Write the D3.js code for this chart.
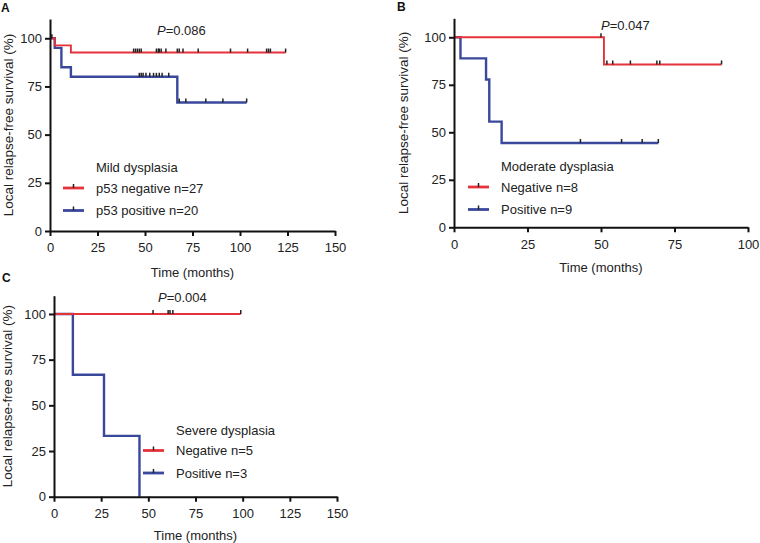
<!DOCTYPE html>
<html>
<head>
<meta charset="utf-8">
<script src="https://cdn.jsdelivr.net/npm/d3@7"></script>
<style>
  body { margin: 0; background: #fff; }
  svg { display: block; font-family: Arial, "Liberation Sans", sans-serif; }
  .axis path, .axis line { stroke: #111; stroke-width: 2; }
  .axis text { font-size: 13px; fill: #222; }
</style>
</head>
<body>
<svg id="chart" width="760" height="543"></svg>
<script>
// shared ticks
const survTicks = [0, 25, 50, 75, 100];
const time150Ticks = [0, 25, 50, 75, 100, 125, 150];
const time100Ticks = [0, 25, 50, 75, 100];

// A: mild dysplasia  (steps are [time, survival %])
const aNegSteps = [[0, 100], [2.5, 96.3], [11, 92.6]];
const aNegEnd = 124;
const aNegCensor = [1, 44, 45, 46, 47, 48, 56, 57, 57.5, 58.5, 61, 67, 68, 70, 78, 95, 104, 114, 115, 116, 124];
const aPosSteps = [[0, 100], [2.5, 95], [6, 85], [11, 80], [67, 66.7]];
const aPosEnd = 103.5;
const aPosCensor = [47, 48, 49, 50.5, 52.5, 54.5, 56, 57.5, 59, 62.5, 68, 71.5, 82, 91, 103.5];
const aLegend = ["Mild dysplasia", "p53 negative n=27", "p53 positive n=20"];
const aP = "=0.086";

// B: moderate dysplasia
const bNegSteps = [[0, 100], [51, 85.7]];
const bNegEnd = 91;
const bNegCensor = [50, 52, 54, 60, 69, 70, 91];
const bPosSteps = [[0, 100], [2.2, 88.9], [10.9, 77.8], [12, 55.6], [16.2, 44.4]];
const bPosEnd = 69.5;
const bPosCensor = [43, 57, 64, 69.5];
const bLegend = ["Moderate dysplasia", "Negative n=8", "Positive n=9"];
const bP = "=0.047";

// C: severe dysplasia
const cNegSteps = [[0, 100]];
const cNegEnd = 99;
const cNegCensor = [52.5, 60.5, 61.5, 63, 99];
const cPosSteps = [[0, 100], [10, 66.7], [26.5, 33.3], [45.3, 0]];
const cPosEnd = 45.3;
const cPosCensor = [];
const cLegend = ["Severe dysplasia", "Negative n=5", "Positive n=3"];
const cP = "=0.004";

const RED = "#e6333b";
const BLUE = "#3a489c";

const svg = d3.select("#chart");

function drawPanel(p) {
  const x = d3.scaleLinear().domain([0, p.xMax]).range([p.left, p.right]);
  const y = d3.scaleLinear().domain([0, 110]).range([p.bottom, p.top]);
  const g = svg.append("g");

  // curves
  const line = d3.line().x(d => x(d[0])).y(d => y(d[1])).curve(d3.curveStepAfter);
  const series = [
    { steps: p.neg, end: p.negEnd, censor: p.negCensor, color: RED, w: 1.9 },
    { steps: p.pos, end: p.posEnd, censor: p.posCensor, color: BLUE, w: 2.4 }
  ];
  // blue under red
  series.slice().reverse().forEach(s => {
    const pts = s.steps.concat([[s.end, s.steps[s.steps.length - 1][1]]]);
    g.append("path")
      .attr("d", line(pts))
      .attr("fill", "none")
      .attr("stroke", s.color)
      .attr("stroke-width", s.w);
    const survAt = t => {
      let v = 100;
      s.steps.forEach(d => { if (d[0] <= t) v = d[1]; });
      return v;
    };
    g.selectAll(null).data(s.censor).enter().append("line")
      .attr("x1", d => x(d)).attr("x2", d => x(d))
      .attr("y1", d => y(survAt(d)))
      .attr("y2", d => y(survAt(d)) - 4)
      .attr("stroke", "#222")
      .attr("stroke-width", 1.5);
  });

  // axes
  g.append("g").attr("class", "axis")
    .attr("transform", `translate(0,${p.bottom})`)
    .call(d3.axisBottom(x).tickValues(p.xTicks).tickSize(5).tickSizeOuter(0).tickPadding(7));
  g.append("g").attr("class", "axis")
    .attr("transform", `translate(${p.left},0)`)
    .call(d3.axisLeft(y).tickValues(survTicks).tickSize(5).tickSizeOuter(0).tickPadding(3));

  // titles
  g.append("text")
    .attr("x", (p.left + p.right) / 2).attr("y", p.xTitleY)
    .attr("text-anchor", "middle").attr("font-size", 13).attr("fill", "#222")
    .text("Time (months)");
  g.append("text")
    .attr("transform", `translate(${p.yTitleX},${(y(0) + y(110)) / 2}) rotate(-90)`)
    .attr("text-anchor", "middle").attr("font-size", 13.5).attr("fill", "#222")
    .text("Local relapse-free survival (%)");

  // panel letter
  g.append("text")
    .attr("x", p.letterX).attr("y", p.letterY)
    .attr("font-size", 12).attr("font-weight", "bold").attr("fill", "#111")
    .text(p.letter);

  // p value
  const pt = g.append("text")
    .attr("x", p.pX).attr("y", p.pY)
    .attr("font-size", 13).attr("fill", "#222");
  pt.append("tspan").attr("font-style", "italic").text("P");
  pt.append("tspan").text(p.pText);

  // legend
  g.append("text")
    .attr("x", p.legX + 33).attr("y", p.legY)
    .attr("font-size", 13).attr("fill", "#222")
    .text(p.legend[0]);
  [RED, BLUE].forEach((c, i) => {
    const cy = p.legY + 16 + i * 22.5;
    g.append("line")
      .attr("x1", p.legX).attr("x2", p.legX + 21)
      .attr("y1", cy).attr("y2", cy)
      .attr("stroke", c).attr("stroke-width", 2.8);
    g.append("line")
      .attr("x1", p.legX + 10.5).attr("x2", p.legX + 10.5)
      .attr("y1", cy).attr("y2", cy - 4)
      .attr("stroke", "#222").attr("stroke-width", 1.5);
    g.append("text")
      .attr("x", p.legX + 33).attr("y", cy + 4.5)
      .attr("font-size", 13).attr("fill", "#222")
      .text(p.legend[i + 1]);
  });
}

drawPanel({
  letter: "A", letterX: 1, letterY: 12,
  left: 50, right: 335, top: 19, bottom: 231, xMax: 150, xTicks: time150Ticks,
  xTitleY: 277, yTitleX: 13,
  neg: aNegSteps, negEnd: aNegEnd, negCensor: aNegCensor,
  pos: aPosSteps, posEnd: aPosEnd, posCensor: aPosCensor,
  legend: aLegend, legX: 63, legY: 172,
  pText: aP, pX: 157, pY: 35
});

drawPanel({
  letter: "B", letterX: 397, letterY: 11,
  left: 454, right: 748, top: 18.3, bottom: 227.3, xMax: 100, xTicks: time100Ticks,
  xTitleY: 272, yTitleX: 408,
  neg: bNegSteps, negEnd: bNegEnd, negCensor: bNegCensor,
  pos: bPosSteps, posEnd: bPosEnd, posCensor: bPosCensor,
  legend: bLegend, legX: 468, legY: 171,
  pText: bP, pX: 601, pY: 30
});

drawPanel({
  letter: "C", letterX: 2, letterY: 282,
  left: 54, right: 337, top: 295.7, bottom: 496.7, xMax: 150, xTicks: time150Ticks,
  xTitleY: 540, yTitleX: 12,
  neg: cNegSteps, negEnd: cNegEnd, negCensor: cNegCensor,
  pos: cPosSteps, posEnd: cPosEnd, posCensor: cPosCensor,
  legend: cLegend, legX: 143, legY: 434.5,
  pText: cP, pX: 158, pY: 302
});
</script>
</body>
</html>
